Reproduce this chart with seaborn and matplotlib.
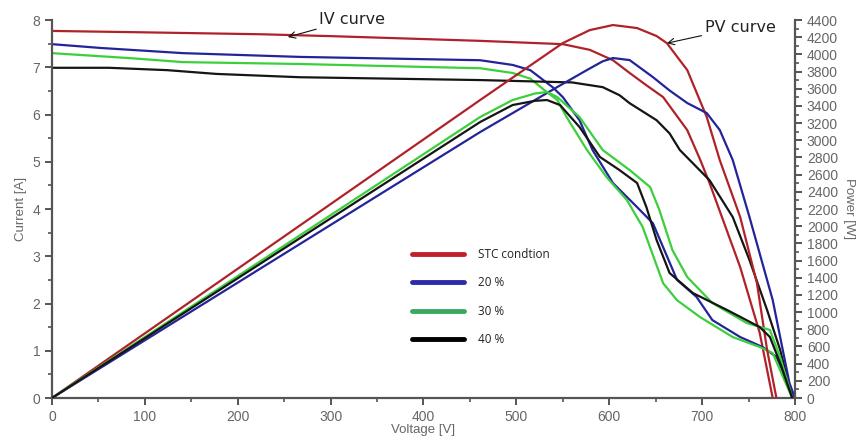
import matplotlib
matplotlib.use("Agg")
import matplotlib.pyplot as plt
from matplotlib.lines import Line2D
from matplotlib.ticker import MultipleLocator
import pandas as pd
import seaborn as sns

# IV curves (voltage [V], current [A])
stc_iv_v = [0, 100, 224, 300, 461, 550, 579, 604, 622, 640, 658, 684, 698, 708, 741, 762, 776]
stc_iv_i = [7.77, 7.74, 7.70, 7.66, 7.56, 7.49, 7.37, 7.15, 6.88, 6.62, 6.37, 5.67, 5.04, 4.55, 2.77, 1.38, 0]

p20_iv_v = [0, 52, 141, 267, 461, 496, 515, 525, 539, 550, 568, 582, 604, 630, 647, 673, 694, 711, 741, 765, 780, 800]
p20_iv_i = [7.49, 7.41, 7.30, 7.22, 7.15, 7.05, 6.94, 6.79, 6.58, 6.37, 5.88, 5.25, 4.55, 4.04, 3.70, 2.50, 2.14, 1.65, 1.29, 1.08, 0.87, 0]

p30_iv_v = [0, 87, 141, 267, 461, 496, 515, 530, 544, 554, 576, 597, 619, 636, 658, 673, 698, 733, 762, 776, 797]
p30_iv_i = [7.30, 7.19, 7.11, 7.07, 6.98, 6.88, 6.76, 6.52, 6.31, 5.95, 5.25, 4.68, 4.19, 3.62, 2.43, 2.07, 1.71, 1.29, 1.08, 0.95, 0]

p40_iv_v = [0, 61, 124, 177, 267, 461, 560, 593, 611, 622, 651, 665, 676, 708, 733, 751, 770, 784, 797]
p40_iv_i = [6.99, 6.99, 6.94, 6.86, 6.79, 6.73, 6.68, 6.58, 6.41, 6.24, 5.88, 5.60, 5.25, 4.61, 3.83, 2.92, 1.86, 1.02, 0]

# PV curves (voltage [V], power [W])
stc_pv_v = [0, 461, 550, 579, 604, 630, 651, 662, 684, 705, 719, 741, 759, 770, 780]
stc_pv_p = [0, 3469, 4132, 4283, 4342, 4307, 4214, 4132, 3818, 3271, 2770, 2107, 1339, 559, 0]

p20_pv_v = [0, 461, 544, 576, 593, 604, 622, 647, 665, 684, 705, 719, 733, 751, 776, 794, 800]
p20_pv_p = [0, 3096, 3620, 3818, 3920, 3958, 3934, 3736, 3580, 3434, 3317, 3120, 2770, 2107, 1141, 175, 0]

p30_pv_v = [0, 461, 496, 520, 533, 544, 568, 593, 622, 644, 654, 668, 684, 711, 748, 773, 784, 797]
p30_pv_p = [0, 3271, 3469, 3545, 3562, 3504, 3271, 2887, 2654, 2456, 2188, 1723, 1408, 1106, 873, 792, 477, 0]

p40_pv_v = [0, 461, 496, 520, 533, 547, 568, 590, 611, 630, 640, 651, 665, 690, 727, 762, 773, 784, 797]
p40_pv_p = [0, 3213, 3411, 3460, 3469, 3411, 3155, 2806, 2654, 2503, 2223, 1839, 1455, 1222, 1024, 826, 710, 407, 0]

labels = ["STC condtion", "20 %", "30 %", "40 %"]
colors = ["#b0222a", "#24249a", "#3ccf3c", "#151515"]

sns.set_style("ticks")
plt.rcParams["font.family"] = ["Liberation Sans", "DejaVu Sans"]

fig = plt.figure(figsize=(8.66, 4.41), dpi=100)
ax = fig.add_axes([0.060, 0.0975, 0.858, 0.857])
ax2 = ax.twinx()

iv_sets = [(stc_iv_v, stc_iv_i), (p20_iv_v, p20_iv_i), (p30_iv_v, p30_iv_i), (p40_iv_v, p40_iv_i)]
pv_sets = [(stc_pv_v, stc_pv_p), (p20_pv_v, p20_pv_p), (p30_pv_v, p30_pv_p), (p40_pv_v, p40_pv_p)]

for (v, i), c in zip(iv_sets, colors):
    df = pd.DataFrame({"v": v, "i": i})
    sns.lineplot(data=df, x="v", y="i", color=c, lw=1.6, sort=False, estimator=None, ax=ax)
for (v, p), c in zip(pv_sets, colors):
    df = pd.DataFrame({"v": v, "p": p})
    sns.lineplot(data=df, x="v", y="p", color=c, lw=1.6, sort=False, estimator=None, ax=ax2)

grey = "#555555"
ax.set_xlim(0, 800)
ax.set_ylim(0, 8)
ax2.set_ylim(0, 4400)
ax.xaxis.set_major_locator(MultipleLocator(100))
ax.xaxis.set_minor_locator(MultipleLocator(50))
ax.yaxis.set_major_locator(MultipleLocator(1))
ax.yaxis.set_minor_locator(MultipleLocator(0.5))
ax2.yaxis.set_major_locator(MultipleLocator(200))
ax2.yaxis.set_minor_locator(MultipleLocator(100))

for a in (ax, ax2):
    for s in a.spines.values():
        s.set_color(grey)
        s.set_linewidth(1.6)
    a.spines["top"].set_visible(False)
    a.tick_params(which="major", length=5, width=1.4, color=grey, labelcolor="#666666", labelsize=10)
    a.tick_params(which="minor", length=3, width=1.2, color=grey)
ax.spines["right"].set_visible(False)
ax2.spines["left"].set_visible(False)
ax2.spines["bottom"].set_visible(False)

ax.set_xlabel("Voltage [V]", fontsize=9.5, color="#666666", labelpad=0)
ax.set_ylabel("Current [A]", fontsize=9.5, color="#666666", labelpad=4)
ax2.set_ylabel("Power [W]", fontsize=9.5, color="#666666", rotation=270, labelpad=12)

ax.annotate("IV curve", xy=(254, 7.64), xytext=(288, 8.02), fontsize=11.5, color="#222222",
            family="DejaVu Sans", va="center", annotation_clip=False,
            arrowprops=dict(arrowstyle="->", color="#111111", lw=0.8, shrinkA=0, shrinkB=0))
ax.annotate("PV curve", xy=(662, 7.51), xytext=(703, 7.85), fontsize=11.5, color="#222222",
            family="DejaVu Sans", va="center", annotation_clip=False,
            arrowprops=dict(arrowstyle="->", color="#111111", lw=0.8, shrinkA=0, shrinkB=0))

handles = [Line2D([], [], color=c, lw=3.5) for c in ["#c0202a", "#2c2ca8", "#3aa860", "#000000"]]
leg = ax.legend(handles, labels, loc="upper left", bbox_to_anchor=(0.47, 0.425), frameon=False,
                handlelength=4.4, labelspacing=1.3, handletextpad=1.2,
                prop={"family": "Open Sans", "size": 8.5})
for t in leg.get_texts():
    t.set_color("#222222")

fig.savefig("out.png", dpi=100)
